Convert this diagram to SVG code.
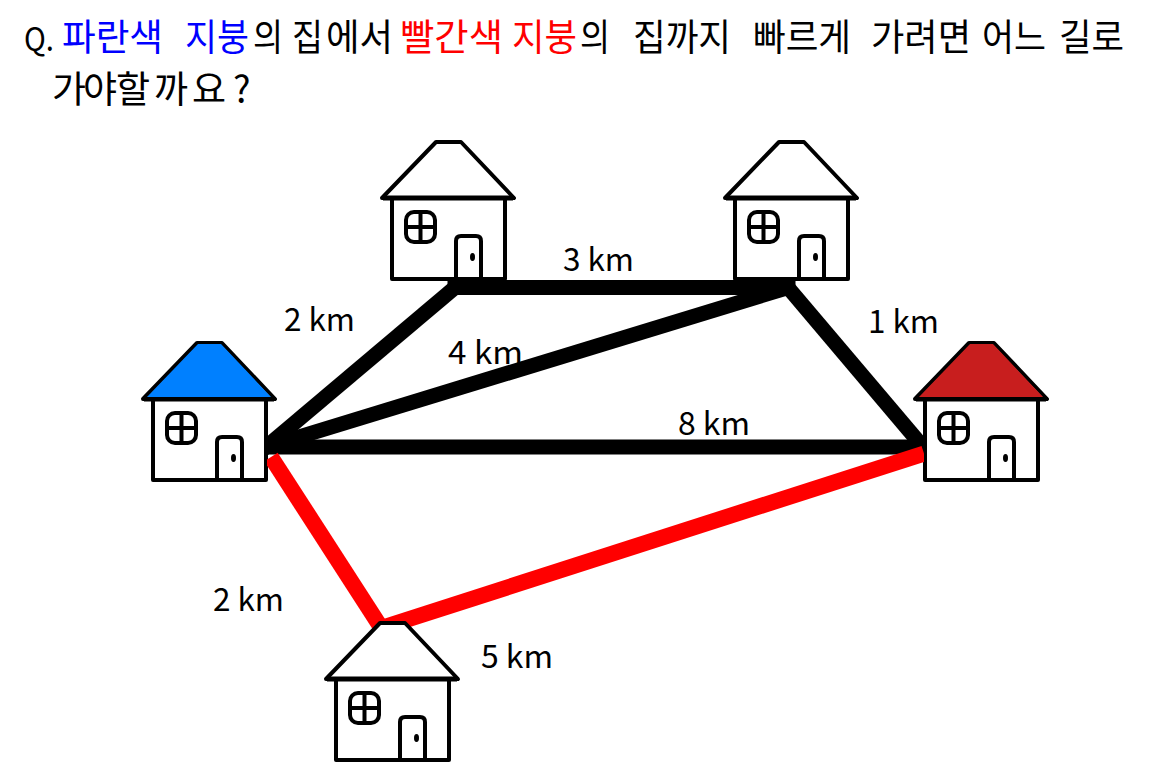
<svg xmlns="http://www.w3.org/2000/svg" width="1158" height="768" viewBox="0 0 1158 768">
<style>
text{font-family:"Noto Sans CJK KR","Noto Sans",sans-serif;fill:#000}
.q{font-size:37px;font-weight:400}
.l{font-size:32px;font-weight:400}
.b{fill:#0000ff}.r{fill:#ff0000}
.s{fill:none;stroke:#000;stroke-width:4;stroke-linejoin:round;stroke-linecap:round}
.k{stroke:#000;stroke-width:15;fill:none;stroke-linecap:square}
.e{stroke:#f00;stroke-width:16;fill:none;stroke-linecap:butt}
</style>
<defs>
<filter id="soft" x="-5%" y="-5%" width="110%" height="110%"><feGaussianBlur stdDeviation="0.6"/></filter>
<clipPath id="cb"><rect x="266" y="280" width="658" height="175"/></clipPath>
<clipPath id="cr"><rect x="267" y="440" width="657" height="200"/></clipPath>
<g id="house" filter="url(#soft)">
<rect x="10" y="57" width="113" height="81" fill="#fff" stroke="none"/>
<path d="M10 57V138H123V57" class="s"/>
<path d="M0 57L54 1H79L132 57Z" class="s"/>
<path d="M1 57H131" fill="none" stroke="#000" stroke-width="5"/>
<rect x="24" y="71" width="29" height="30" rx="8" class="s"/>
<path d="M38.500 71V101M24 86H53" class="s"/>
<path d="M74 138V100Q74 95 79 95H94Q99 95 99 100V138" class="s"/>
<ellipse cx="90.500" cy="116" rx="2.500" ry="4" fill="#000"/>
</g>
</defs>
<rect width="1158" height="768" fill="#fff"/>
<g id="question">
<text class="q" x="24" y="51" style="font-size:32px" textLength="30" lengthAdjust="spacingAndGlyphs">Q.</text>
<text class="q b" x="62" y="51" textLength="101" lengthAdjust="spacingAndGlyphs">파란색</text>
<text class="q b" x="185" y="51" textLength="64" lengthAdjust="spacingAndGlyphs">지붕</text>
<text class="q" x="253" y="51" textLength="30" lengthAdjust="spacingAndGlyphs">의</text>
<text class="q" x="292" y="51" textLength="31" lengthAdjust="spacingAndGlyphs">집</text>
<text class="q" x="326" y="51" textLength="67" lengthAdjust="spacingAndGlyphs">에서</text>
<text class="q r" x="400" y="51" textLength="103" lengthAdjust="spacingAndGlyphs">빨간색</text>
<text class="q r" x="512" y="51" textLength="65" lengthAdjust="spacingAndGlyphs">지붕</text>
<text class="q" x="580" y="51" textLength="30" lengthAdjust="spacingAndGlyphs">의</text>
<text class="q" x="633" y="51" textLength="98" lengthAdjust="spacingAndGlyphs">집까지</text>
<text class="q" x="753" y="51" textLength="98" lengthAdjust="spacingAndGlyphs">빠르게</text>
<text class="q" x="871" y="51" textLength="100" lengthAdjust="spacingAndGlyphs">가려면</text>
<text class="q" x="982" y="51" textLength="64" lengthAdjust="spacingAndGlyphs">어느</text>
<text class="q" x="1059" y="51" textLength="65" lengthAdjust="spacingAndGlyphs">길로</text>
<text class="q" x="52 83 116 154 192 233" y="103">가야할까요?</text>
</g>
<g id="house-top-left"><use href="#house" x="382" y="141"/></g>
<g id="house-top-right"><use href="#house" x="725" y="141"/></g>
<g id="house-blue"><use href="#house" x="143" y="342"/><path d="M147 397L198 344H221L271 397Z" fill="#0080ff"/></g>
<g id="house-red"><use href="#house" x="915" y="342"/><path d="M919 397L970 344H993L1043 397Z" fill="#c81e1e"/></g>
<g id="connectors">
<g clip-path="url(#cb)">
<path class="k" d="M455 287.500H788"/>
<path class="k" d="M455 287.500L266 447"/>
<path class="k" d="M788 287.500L266 447"/>
<path class="k" d="M788 287.500L923 447"/>
<path class="k" d="M266 447H923"/>
</g>
<g clip-path="url(#cr)">
<path class="e" d="M271 457L382 629"/>
<path class="e" d="M378 629L924 453.500"/>
</g>
</g>
<g id="house-bottom"><path d="M326 679L380 623H405L458 679Z" fill="#fff"/><use href="#house" x="326" y="622"/></g>
<g id="labels">
<text class="l" x="284" y="331" textLength="71" lengthAdjust="spacingAndGlyphs">2 km</text>
<text class="l" x="563" y="271" textLength="71" lengthAdjust="spacingAndGlyphs">3 km</text>
<text class="l" x="868" y="333" textLength="71" lengthAdjust="spacingAndGlyphs">1 km</text>
<text class="l" x="448" y="364" textLength="75" lengthAdjust="spacingAndGlyphs">4 km</text>
<text class="l" x="678" y="435" textLength="72" lengthAdjust="spacingAndGlyphs">8 km</text>
<text class="l" x="213" y="611" textLength="71" lengthAdjust="spacingAndGlyphs">2 km</text>
<text class="l" x="481" y="668" textLength="72" lengthAdjust="spacingAndGlyphs">5 km</text>
</g>
</svg>
